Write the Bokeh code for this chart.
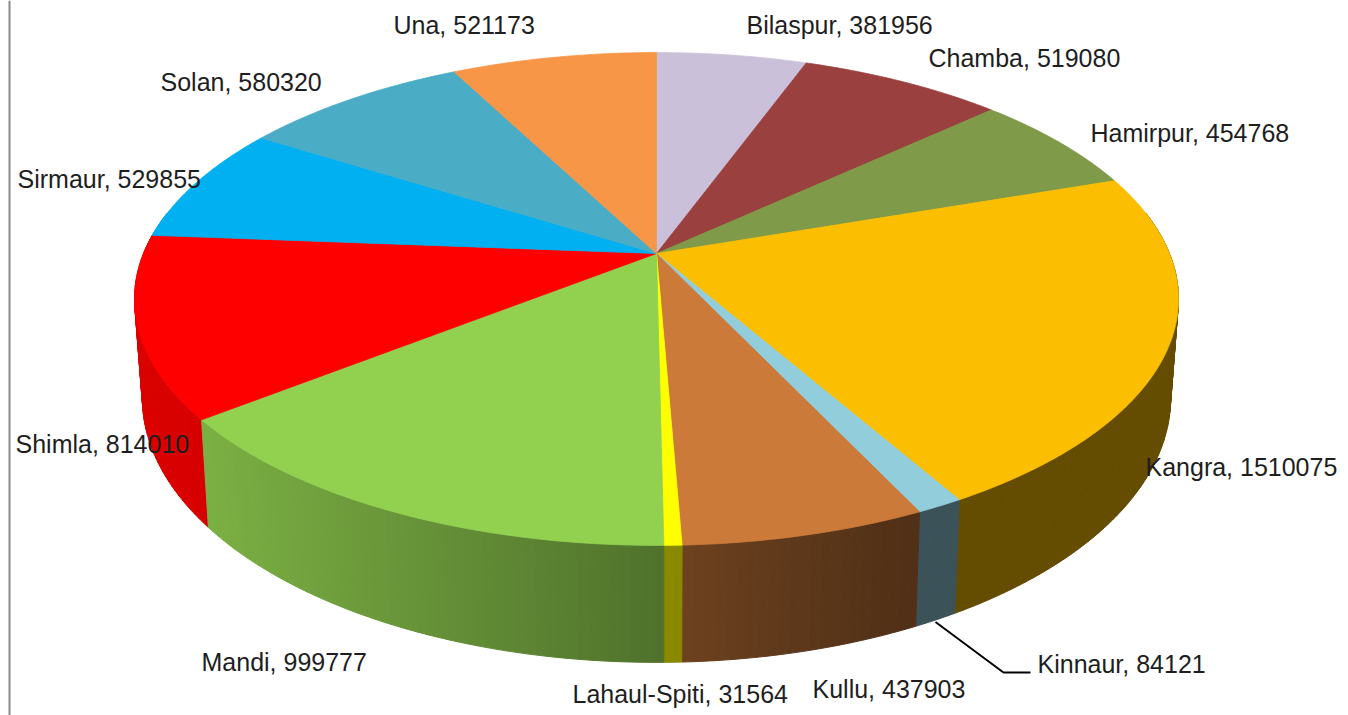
import numpy as np
from bokeh.plotting import figure
from bokeh.models import Range1d, ColumnDataSource
from bokeh.embed import file_html
from bokeh.resources import INLINE
from bokeh.core.properties import value

# ---------------- data ----------------
districts = ["Bilaspur", "Chamba", "Hamirpur", "Kangra", "Kinnaur", "Kullu",
             "Lahaul-Spiti", "Mandi", "Shimla", "Sirmaur", "Solan", "Una"]
population = [381956, 519080, 454768, 1510075, 84121, 437903,
              31564, 999777, 814010, 529855, 580320, 521173]
colors = ["#CBC0DA", "#9A403E", "#7F9A48", "#FBBE00", "#92CDDC", "#CB7A3A",
          "#FFFF00", "#92D050", "#FF0000", "#00B0F0", "#4BACC6", "#F79646"]

# label placement (screen layout, left edge / vertical centre)
label_x = [746, 928, 1090, 1145, 1037, 812, 572, 201, 15, 17, 160, 393]
label_y = [24, 57, 132, 466, 663, 688, 693, 661, 443, 178, 81, 24]

# ---------------- 3D pie geometry ----------------
CX, CY = 656.0, 253.0   # apex of slices
A, B = 513.0, 238.0     # radii
K = 0.1846              # perspective factor
D = 95.4                # depth of the pie
S = 0.985               # shrink of bottom rim (perspective)

W, H = 1348, 715


def top_pt(theta_deg):
    t = np.radians(theta_deg)
    u, v = np.sin(t), np.cos(t)
    w = 1 + K * v
    return CX + A * u / w, CY - B * v / w


def bot_pt(theta_deg):
    t = np.radians(theta_deg)
    v = np.cos(t)
    w = 1 + K * v
    xt, yt = top_pt(theta_deg)
    return CX + (xt - CX) * S, yt + D / w


def shade(x):
    return float(np.interp(x, [133, 215, 660, 900, 1200], [0.86, 0.84, 0.55, 0.40, 0.40]))


def scale_color(hexc, f):
    r, g, b = int(hexc[1:3], 16), int(hexc[3:5], 16), int(hexc[5:7], 16)
    return "#%02x%02x%02x" % (int(r * f), int(g * f), int(b * f))


total = float(sum(population))
cum = np.concatenate([[0.0], np.cumsum(population)]) / total * 360.0

# side wall quads
side_xs, side_ys, side_c, side_v = [], [], [], []
for i in range(len(districts)):
    a0, a1 = max(cum[i], 80.0), min(cum[i + 1], 280.0)
    if a1 <= a0:
        continue
    n = max(1, int(np.ceil((a1 - a0) / 1.0)))
    angs = np.linspace(a0, a1, n + 1)
    for j in range(n):
        t0, t1 = angs[j], angs[j + 1]
        x0, y0 = top_pt(t0)
        x1, y1 = top_pt(t1)
        bx0, by0 = bot_pt(t0)
        bx1, by1 = bot_pt(t1)
        side_xs.append([x0, x1, bx1, bx0])
        side_ys.append([y0, y1, by1, by0])
        side_c.append(scale_color(colors[i], shade((x0 + x1) / 2)))
        side_v.append(np.cos(np.radians((t0 + t1) / 2)))

order = np.argsort(-np.array(side_v))
side_src = ColumnDataSource(dict(
    xs=[side_xs[k] for k in order],
    ys=[side_ys[k] for k in order],
    c=[side_c[k] for k in order],
))

# top slices
top_xs, top_ys = [], []
for i in range(len(districts)):
    n = max(2, int(np.ceil((cum[i + 1] - cum[i]) / 0.5)))
    angs = np.linspace(cum[i], cum[i + 1], n + 1)
    pts = [top_pt(t) for t in angs]
    top_xs.append([CX] + [p[0] for p in pts])
    top_ys.append([CY] + [p[1] for p in pts])
top_src = ColumnDataSource(dict(xs=top_xs, ys=top_ys, c=colors))

labels = ["%s, %d" % (d, v) for d, v in zip(districts, population)]
lab_src = ColumnDataSource(dict(x=label_x, y=label_y, t=labels))

# ---------------- figure ----------------
p = figure(width=W, height=H, x_range=Range1d(0, W), y_range=Range1d(H, 0),
           output_backend="svg", toolbar_location=None, min_border=0)
p.axis.visible = False
p.grid.visible = False
p.outline_line_color = None
p.background_fill_color = "white"
p.border_fill_color = "white"

p.patches("xs", "ys", source=side_src, fill_color="c", line_color="c", line_width=1)
p.patches("xs", "ys", source=top_src, fill_color="c", line_color="c", line_width=0.8)

# Kinnaur leader line
ki = districts.index("Kinnaur")
mid = (cum[ki] + cum[ki + 1]) / 2
lx, ly = bot_pt(mid)
p.line([lx, 1003, 1030], [ly + 2, 672, 672], line_color="black", line_width=2)

p.text(x="x", y="y", text="t", source=lab_src, text_font=value("Liberation Sans"),
       text_font_size="25px", text_baseline="middle", text_align="left",
       text_color="#1e1e1e")

# chart area border on the left
p.segment(x0=[9], y0=[0], x1=[9], y1=[H], line_color="#8a8a8a", line_width=2)

open("out.html", "w").write(file_html(p, INLINE))
